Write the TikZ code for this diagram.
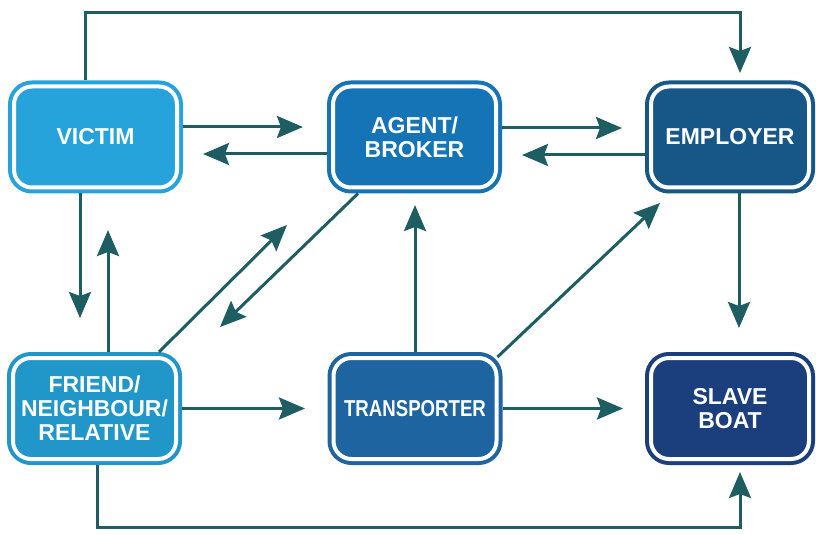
\documentclass[tikz,border=0pt]{standalone}
\usepackage{fontspec}
\setmainfont{Liberation Sans}
\usepackage{graphicx}
\usepackage{xcolor}
\usepackage{tikz}
\usetikzlibrary{arrows.meta}

\definecolor{victimblue}{HTML}{27A3DC}
\definecolor{agentblue}{HTML}{1574B6}
\definecolor{employerblue}{HTML}{175787}
\definecolor{friendblue}{HTML}{2196C8}
\definecolor{transblue}{HTML}{1D64A0}
\definecolor{boatblue}{HTML}{1B3F7C}
\definecolor{arrowteal}{HTML}{1E5E62}

\tikzset{
  role/.style={draw=#1, fill=#1, double=white, double distance=4pt, line width=4pt,
    rounded corners=18pt, minimum width=163pt, minimum height=101pt,
    outer sep=6pt, inner sep=0pt, align=center, text=white,
    font=\bfseries\fontsize{23}{24}\selectfont},
  link/.style={draw=arrowteal, line width=3pt, -{Stealth[length=26pt,width=22pt,inset=4pt]}}
}

\begin{document}
\begin{tikzpicture}[x=1pt,y=-1pt]
\useasboundingbox (0,0) rectangle (816,534);

\node[role=victimblue] (victim) at (95.5,137) {VICTIM};
\node[role=agentblue] (agent) at (414.5,137) {AGENT/\\BROKER};
\node[role=employerblue, minimum width=158pt] (employer) at (730,137) {EMPLOYER};
\node[role=friendblue] (friend) at (94.5,408.5) {FRIEND/\\NEIGHBOUR/\\RELATIVE};
\node[role=transblue] (transporter) at (415,408.5) {\scalebox{0.81}[1]{TRANSPORTER}};
\node[role=boatblue, minimum width=158pt] (boat) at (730,408.5) {SLAVE\\BOAT};

% top row
\draw[link, shorten >=24pt] ([yshift=10pt]victim.east) -- ([yshift=10pt]agent.west);
\draw[link, shorten >=20pt] ([yshift=-17pt]agent.west) -- ([yshift=-17pt]victim.east);
\draw[link, shorten >=23pt] ([yshift=9pt]agent.east) -- ([yshift=9pt]employer.west);
\draw[link, shorten >=20pt] ([yshift=-18pt]employer.west) -- ([yshift=-18pt]agent.east);

% left column
\coordinate (vs) at ([xshift=-15.5pt]victim.south);
\coordinate (fn) at ([xshift=13.5pt]friend.north);
\draw[link, shorten >=34pt] (vs) -- (vs |- friend.north);
\draw[link, shorten >=36.5pt] (fn) -- (fn |- victim.south);

% diagonals
\coordinate (fa) at (287,225);
\coordinate (af) at (220,327);
\coordinate (te) at (660,203);
\draw[link] ([xshift=64.5pt]friend.north) -- (fa);
\draw[link] ([xshift=-56.5pt]agent.south) -- (af);
\draw[link] ([xshift=-5pt,yshift=-5pt]transporter.north east) -- (te);

% verticals
\draw[link, shorten >=11.5pt] (transporter.north) -- (transporter.north |- agent.south);
\coordinate (es) at ([xshift=9pt]employer.south);
\draw[link, shorten >=24pt] (es) -- (es |- boat.north);

% bottom row
\draw[link, shorten >=22.5pt] (friend.east) -- (friend.east -| transporter.west);
\draw[link, shorten >=22pt] (transporter.east) -- (boat.west);

% outer loops
\coordinate (vt) at ([xshift=-10.5pt]victim.north);
\draw[link, shorten >=7.5pt] (vt) -- (vt |- 0,13) -| ([xshift=10pt]employer.north);
\coordinate (fb) at ([xshift=2.5pt]friend.south);
\draw[link, shorten >=7pt] (fb) -- (fb |- 0,527) -| ([xshift=10pt]boat.south);
\end{tikzpicture}
\end{document}
